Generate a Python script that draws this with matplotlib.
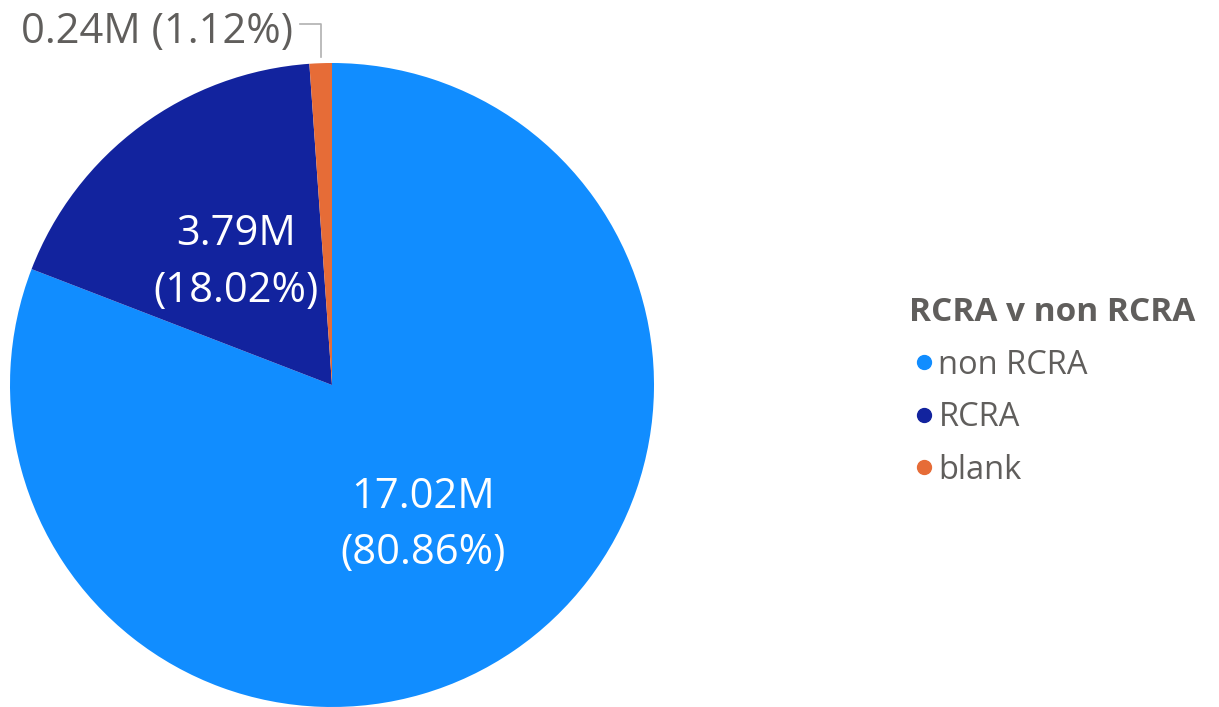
import numpy as np
import matplotlib.pyplot as plt
from matplotlib.lines import Line2D

plt.rcParams['font.family'] = ['Open Sans', 'DejaVu Sans']

categories = ['non RCRA', 'RCRA', 'blank']
values_m = [17.02, 3.79, 0.24]
shares = [80.86, 18.02, 1.12]
colors = ['#118DFF', '#12239E', '#E66C37']

fig = plt.figure(figsize=(12.19, 7.07), dpi=100)
ax = fig.add_axes([10 / 1219, 0, 644 / 1219, 644 / 707])

wedges, _ = ax.pie(shares, colors=colors, startangle=90, counterclock=False,
                   radius=1, wedgeprops=dict(linewidth=0))
ax.set_xlim(-1, 1)
ax.set_ylim(-1, 1)

# inside labels for the two big slices
for w, v, s in zip(wedges[:2], values_m[:2], shares[:2]):
    mid = np.deg2rad((w.theta1 + w.theta2) / 2)
    d = 0.5
    ax.text(d * np.cos(mid), d * np.sin(mid) - 0.022, f'{v:.2f}M\n({s:.2f}%)',
            ha='center', va='center', color='white', fontsize=30,
            linespacing=1.45)

# small slice gets an outside label with a leader line
w = wedges[2]
mid = np.deg2rad((w.theta1 + w.theta2) / 2)
x0 = np.cos(mid)
ax.plot([x0, x0, -0.099], [1.02, 1.121, 1.121], color='#B0B0B0', lw=1.2,
        clip_on=False)
ax.text(-0.122, 1.095, f'{values_m[2]:.2f}M ({shares[2]:.2f}%)',
        ha='right', va='center', color='#605E5C', fontsize=30,
        clip_on=False)

handles = [Line2D([], [], marker='o', ls='', color=c, markersize=10)
           for c in colors]
leg = fig.legend(handles, categories, loc='upper left',
                 bbox_to_anchor=(883 / 1219, 1 - 270 / 707), frameon=False,
                 title='RCRA v non RCRA', fontsize=23.5, handletextpad=0.0,
                 handlelength=0.9, labelspacing=0.6, alignment='left',
                 labelcolor='#605E5C', borderpad=0.3)
leg.get_title().set_fontsize(24)
leg.get_title().set_fontweight('bold')
leg.get_title().set_color('#605E5C')

fig.savefig('out.png', dpi=100)
